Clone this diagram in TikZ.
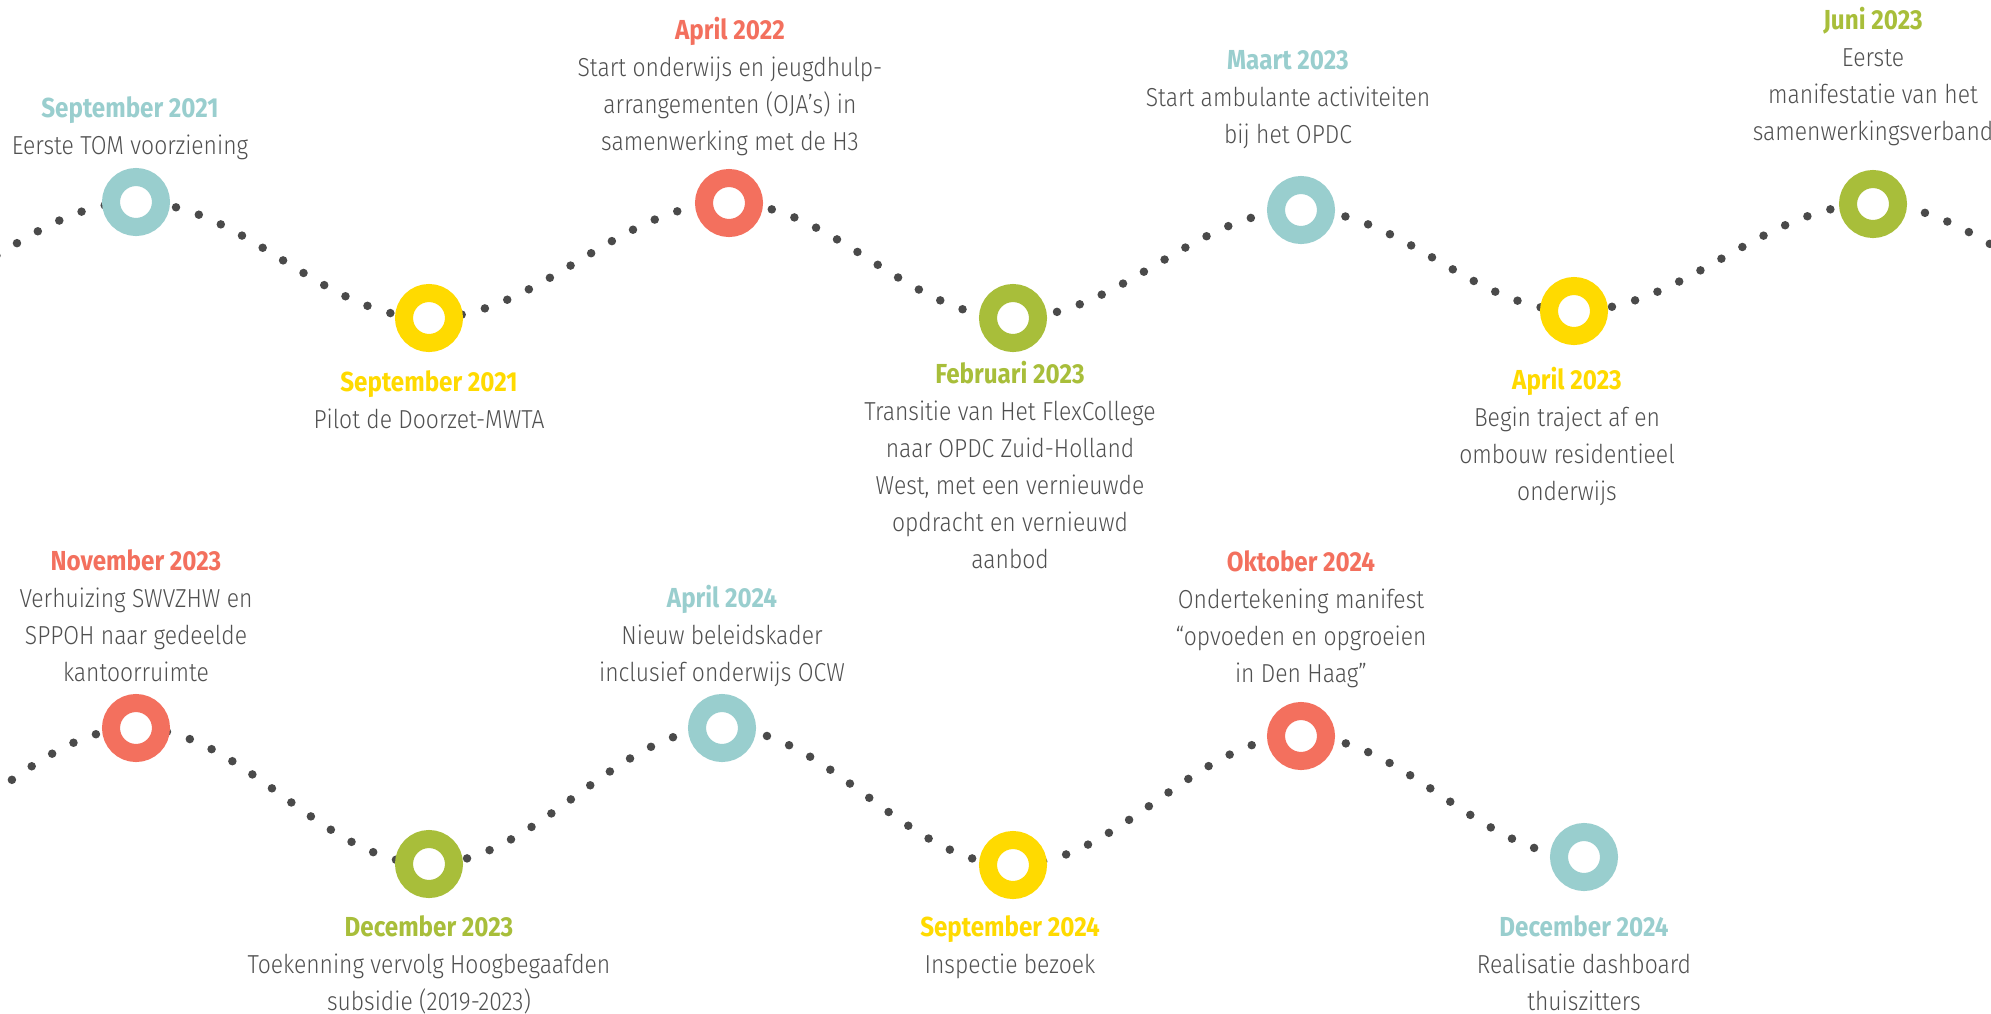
\documentclass[tikz,border=0pt]{standalone}
\usepackage{fontspec}
\setmainfont{Fira Sans Light}[BoldFont={Fira Sans Bold}, FakeStretch=0.88]
\definecolor{cTeal}{HTML}{99CECE}
\definecolor{cYellow}{HTML}{FFDA00}
\definecolor{cRed}{HTML}{F3705E}
\definecolor{cGreen}{HTML}{A8BE3A}
\definecolor{cText}{HTML}{505050}
\definecolor{cDot}{HTML}{4A4A4A}
\newcommand\evtext[3]{\begin{tabular}[t]{@{}c@{}}{\fontsize{27.5}{37}\selectfont\textcolor{#1}{\bfseries #2}}\\#3\end{tabular}}
\tikzset{
  ring/.style={circle, draw=#1, line width=18pt, fill=white, minimum size=50pt, inner sep=0pt},
  lbl/.style={anchor=base, inner sep=0pt, text=cText, font=\fontsize{26}{37}\selectfont},
  dotline/.style={draw=cDot, line width=8.5pt, line cap=round, dash pattern=on 0pt off 24pt}
}
\begin{document}
\begin{tikzpicture}[x=1pt, y=-1pt]
\useasboundingbox (0,0) rectangle (1991,1013);
\fill[white] (0,0) rectangle (1991,1013);
\clip (0,0) rectangle (1991,1013);
% top row
\coordinate (T0) at (-157,318);
\coordinate (C1) at (136,202);
\coordinate (C2) at (429,318);
\coordinate (C3) at (729,203);
\coordinate (C4) at (1013,318);
\coordinate (C5) at (1301,210);
\coordinate (C6) at (1574,311);
\coordinate (C7) at (1873,204);
\coordinate (T8) at (2163,318);
% bottom row
\coordinate (B0) at (-157,864);
\coordinate (D1) at (136,728);
\coordinate (D2) at (429,864);
\coordinate (D3) at (722,728);
\coordinate (D4) at (1013,865);
\coordinate (D5) at (1301,736);
\coordinate (D6) at (1584,857);

\draw[dotline] (T0) .. controls +(106.7,0) and +(-106.7,0) .. (C1)
  .. controls +(106.7,0) and +(-106.7,0) .. (C2)
  .. controls +(109,0) and +(-109,0) .. (C3)
  .. controls +(103.4,0) and +(-103.4,0) .. (C4)
  .. controls +(104.8,0) and +(-104.8,0) .. (C5)
  .. controls +(99.4,0) and +(-99.4,0) .. (C6)
  .. controls +(108.8,0) and +(-108.8,0) .. (C7)
  .. controls +(105.6,0) and +(-105.6,0) .. (T8);

\draw[dotline] (B0) .. controls +(106.7,0) and +(-106.7,0) .. (D1)
  .. controls +(106.7,0) and +(-106.7,0) .. (D2)
  .. controls +(106.7,0) and +(-106.7,0) .. (D3)
  .. controls +(106,0) and +(-106,0) .. (D4)
  .. controls +(104.8,0) and +(-104.8,0) .. (D5)
  .. controls +(103,0) and +(-103,0) .. (D6);

\node[ring=cTeal] (R1) at (C1) {};
\node[ring=cYellow] (R2) at (C2) {};
\node[ring=cRed] (R3) at (C3) {};
\node[ring=cGreen] (R4) at (C4) {};
\node[ring=cTeal] (R5) at (C5) {};
\node[ring=cYellow] (R6) at (C6) {};
\node[ring=cGreen] (R7) at (C7) {};
\node[ring=cRed] (S1) at (D1) {};
\node[ring=cGreen] (S2) at (D2) {};
\node[ring=cTeal] (S3) at (D3) {};
\node[ring=cYellow] (S4) at (D4) {};
\node[ring=cRed] (S5) at (D5) {};
\node[ring=cTeal] (S6) at (D6) {};

% labels top row
\node[lbl] (L1) at (130,117) {\evtext{cTeal}{September 2021}{Eerste TOM voorziening}};
\node[lbl] (L2) at (429,391) {\evtext{cYellow}{September 2021}{Pilot de Doorzet-MWTA}};
\node[lbl] (L3) at (730,39) {\evtext{cRed}{April 2022}{Start onderwijs en jeugdhulp-\\arrangementen (OJA’s) in\\samenwerking met de H3}};
\node[lbl] (L4) at (1010,383) {\evtext{cGreen}{Februari 2023}{Transitie van Het FlexCollege\\naar OPDC Zuid-Holland\\West, met een vernieuwde\\opdracht en vernieuwd\\aanbod}};
\node[lbl] (L5) at (1288,69) {\evtext{cTeal}{Maart 2023}{Start ambulante activiteiten\\bij het OPDC}};
\node[lbl] (L6) at (1567,389) {\evtext{cYellow}{April 2023}{Begin traject af en\\ombouw residentieel\\onderwijs}};
\node[lbl] (L7) at (1873,29) {\evtext{cGreen}{Juni 2023}{Eerste\\manifestatie van het\\samenwerkingsverband}};

% labels bottom row
\node[lbl] (M1) at (136,570) {\evtext{cRed}{November 2023}{Verhuizing SWVZHW en\\SPPOH naar gedeelde\\kantoorruimte}};
\node[lbl] (M2) at (429,936) {\evtext{cGreen}{December 2023}{Toekenning vervolg Hoogbegaafden\\subsidie (2019-2023)}};
\node[lbl] (M3) at (722,607) {\evtext{cTeal}{April 2024}{Nieuw beleidskader\\inclusief onderwijs OCW}};
\node[lbl] (M4) at (1010,936) {\evtext{cYellow}{September 2024}{Inspectie bezoek}};
\node[lbl] (M5) at (1301,571) {\evtext{cRed}{Oktober 2024}{Ondertekening manifest\\“opvoeden en opgroeien\\in Den Haag”}};
\node[lbl] (M6) at (1584,936) {\evtext{cTeal}{December 2024}{Realisatie dashboard\\thuiszitters}};
\end{tikzpicture}
\end{document}
